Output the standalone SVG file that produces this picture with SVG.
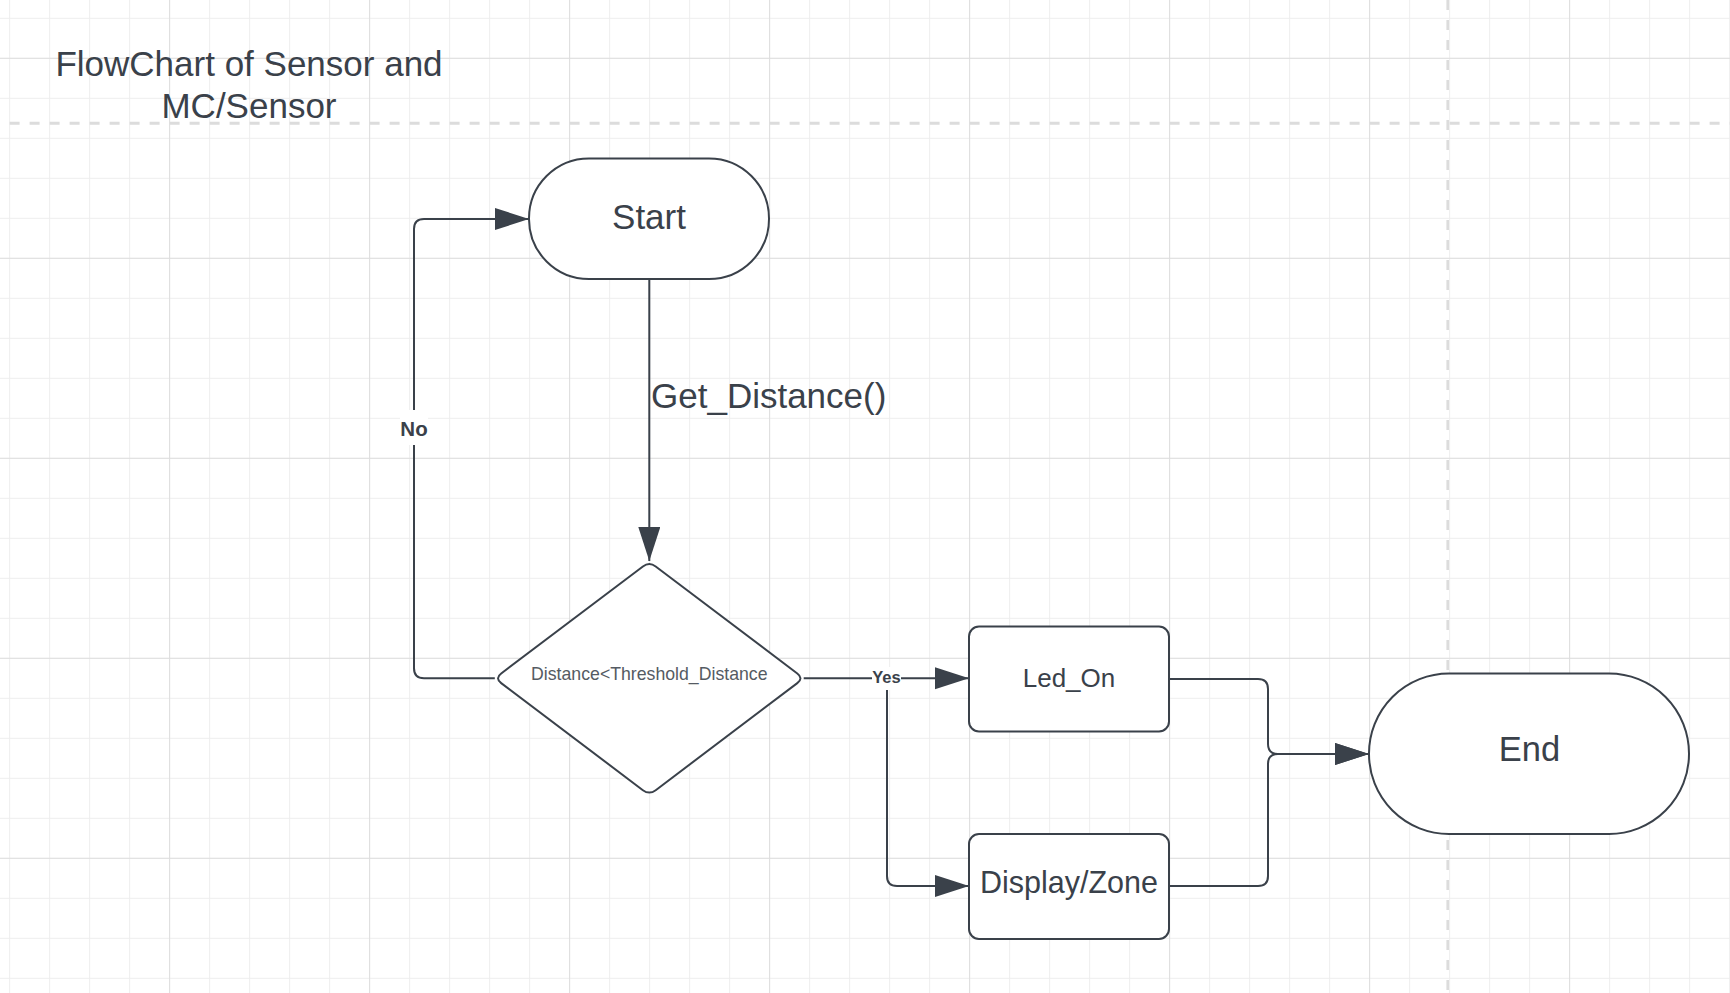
<svg xmlns="http://www.w3.org/2000/svg" width="1730" height="993" viewBox="0 0 1730 993">
  <style>
    .shape { fill: #ffffff; stroke: #3a414a; stroke-width: 2; }
    .conn { fill: none; stroke: #3a414a; stroke-width: 2; stroke-linejoin: round; }
    .txt { font-family: "Liberation Sans", Arial, sans-serif; fill: #3a414a; text-anchor: middle; }
    .lbl { font-family: "Liberation Sans", Arial, sans-serif; fill: #3a414a; text-anchor: middle; font-weight: bold; }
    .lblbg { fill: #ffffff; stroke: none; }
    .guide { fill: none; stroke: #dcdcdc; stroke-dasharray: 10 10; }
  </style>
  <defs>
    <pattern id="minor" x="9.1" y="17.8" width="40" height="40" patternUnits="userSpaceOnUse">
      <path d="M0,0.5 H40 M0.5,0 V40" fill="none" stroke="#eeeeee" stroke-width="1"/>
    </pattern>
    <pattern id="major" x="169.1" y="57.8" width="200" height="200" patternUnits="userSpaceOnUse">
      <path d="M0,0.5 H200 M0.5,0 V200" fill="none" stroke="#dedede" stroke-width="1"/>
    </pattern>
    <marker id="arrow" markerUnits="userSpaceOnUse" markerWidth="36" markerHeight="24" refX="34" refY="11" orient="auto">
      <path d="M0,0 L34,11 L0,22 Z" fill="#3a414a"/>
    </marker>
  </defs>

  <rect x="0" y="0" width="1730" height="993" fill="#ffffff"/>
  <rect x="0" y="0" width="1730" height="993" fill="url(#minor)"/>
  <rect x="0" y="0" width="1730" height="993" fill="url(#major)"/>
  <line class="guide" x1="9.6" y1="123.3" x2="1730" y2="123.3" stroke-width="3"/>
  <line class="guide" x1="1447.7" y1="0" x2="1447.7" y2="993" stroke-width="2.6"/>

  <g id="title">
    <text class="txt" x="249" y="76" font-size="35">FlowChart of Sensor and</text>
    <text class="txt" x="249" y="118" font-size="35">MC/Sensor</text>
  </g>

  <g id="connectors">
    <path class="conn" d="M649.3,279 V561" marker-end="url(#arrow)" stroke-width="1.7"/>
    <path class="conn" d="M494.8,678.3 H424 Q414,678.3 414,668.3 V229 Q414,219 424,219 H529" marker-end="url(#arrow)" stroke-width="2.8"/>
    <path class="conn" d="M803.7,678.3 H969" marker-end="url(#arrow)" stroke-width="2.4"/>
    <path class="conn" d="M887,678.3 V876 Q887,886 897,886 H969" marker-end="url(#arrow)"/>
    <path class="conn" d="M1169,679 H1258 Q1268,679 1268,689 V744 Q1268,754 1278,754 H1369" marker-end="url(#arrow)"/>
    <path class="conn" d="M1169,886 H1258 Q1268,886 1268,876 V764 Q1268,754 1278,754 H1369" marker-end="url(#arrow)"/>
    <rect class="lblbg" x="400" y="410" width="28" height="35"/>
    <text class="lbl" x="414" y="436" font-size="20.5">No</text>
    <text class="txt" x="651" y="408" font-size="35" text-anchor="start" style="text-anchor:start">Get_Distance()</text>
    <rect class="lblbg" x="872" y="667" width="29" height="23"/>
    <text class="lbl" x="886.5" y="682.7" font-size="16.5">Yes</text>
  </g>

  <g id="start">
    <rect class="shape" x="529" y="158.5" width="240" height="120.5" rx="60" ry="60"/>
    <text class="txt" x="649" y="229" font-size="35">Start</text>
  </g>

  <g id="decision">
    <path class="shape" d="M642.9,566.5 Q649.3,561.7 655.7,566.5 L797.3,673.5 Q803.7,678.3 797.3,683.1 L655.7,790.2 Q649.3,795 642.9,790.2 L501.2,683.1 Q494.8,678.3 501.2,673.5 Z"/>
    <text class="txt" x="649.3" y="680" font-size="17.7" style="fill:#555b63">Distance&lt;Threshold_Distance</text>
  </g>

  <g id="led_on">
    <rect class="shape" x="969" y="626.5" width="200" height="105" rx="10" ry="10"/>
    <text class="txt" x="1069" y="687" font-size="26">Led_On</text>
  </g>

  <g id="display_zone">
    <rect class="shape" x="969" y="834" width="200" height="105" rx="10" ry="10"/>
    <text class="txt" x="1069" y="892.7" font-size="30.5">Display/Zone</text>
  </g>

  <g id="end">
    <rect class="shape" x="1369" y="673.5" width="320" height="160.5" rx="80" ry="80"/>
    <text class="txt" x="1529.5" y="760.7" font-size="34.5">End</text>
  </g>
</svg>
